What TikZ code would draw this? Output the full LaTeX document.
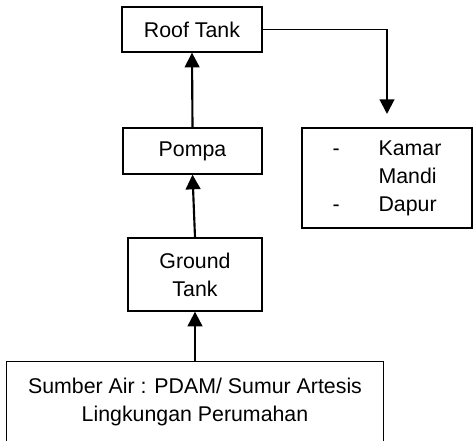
\documentclass[tikz,border=0pt]{standalone}
\usepackage{fontspec}
\setmainfont{Liberation Sans}
\usetikzlibrary{arrows.meta}
\newcommand{\dashitem}[1]{\makebox[34.5pt][l]{-}#1}

\begin{document}
\begin{tikzpicture}[x=0.75pt,y=-0.75pt,
    tankbox/.style={draw,line width=1pt,inner sep=0pt,align=center,
      font=\fontsize{16}{21}\selectfont},
    flow/.style={line width=1.6pt,-{Triangle[width=11pt,length=11pt]}}]
  \useasboundingbox (0,0) rectangle (475,441);
  \node[tankbox,minimum width=105pt,minimum height=33.75pt] (roof) at (192,29.5) {Roof Tank};
  \node[tankbox,minimum width=104.25pt,minimum height=34.5pt] (pompa) at (192.5,151) {Pompa};
  \node[tankbox,minimum width=100.5pt,minimum height=54.75pt] (ground) at (195,274.5) {Ground\\Tank};
  \node[tankbox,draw=none,minimum width=282pt,minimum height=59.25pt] (sumber) at (195,401.5)
    {Sumber Air : PDAM/ Sumur Artesis\\Lingkungan Perumahan};
  \draw[line width=1pt] (sumber.south west) -- (sumber.north west) -- (sumber.north east) -- (sumber.south east);
  \node[tankbox,align=left,minimum width=127.5pt,minimum height=75pt] (kamar) at (387,178)
    {\dashitem{Kamar}\\\hspace*{34.5pt}Mandi\\\dashitem{Dapur}};
  % aliran air
  \draw[flow] (sumber.north) -- (ground.south);
  \draw[flow] (ground.north) -- (pompa.south);
  \draw[flow] (pompa.north) -- (roof.south);
  \coordinate (belok) at (kamar.north |- roof.east);
  \draw[line width=0.8pt] (roof.east) -- ([xshift=0.4pt]belok);
  \draw[flow,shorten >=10pt] (belok) -- (kamar.north);
\end{tikzpicture}
\end{document}
